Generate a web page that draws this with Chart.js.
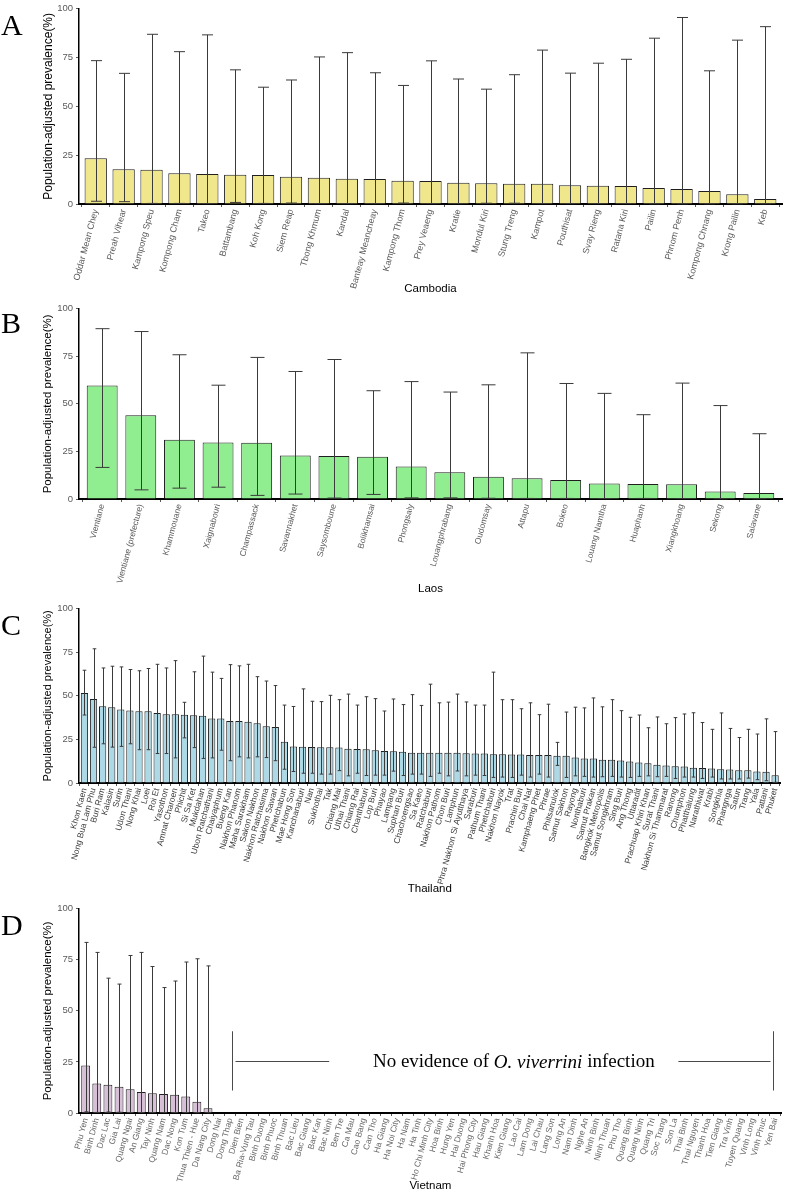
<!DOCTYPE html>
<html>
<head>
<meta charset="utf-8">
<script src="https://cdn.jsdelivr.net/npm/chart.js@4.4.1/dist/chart.umd.min.js"></script>
<style>
  body { margin: 0; background: #fff; width: 786px; height: 1197px; position: relative; overflow: hidden; }
  .panel { position: absolute; left: 0; width: 786px; }
  .tag { position: absolute; left: 1px; font-family: "Liberation Serif", "Times New Roman", serif; font-size: 30px; line-height: 30px; color: #000; }
</style>
</head>
<body>
<div class="panel" style="top:0;height:300px"><canvas id="chartA" width="786" height="300"></canvas></div>
<div class="panel" style="top:300px;height:300px"><canvas id="chartB" width="786" height="300"></canvas></div>
<div class="panel" style="top:600px;height:300px"><canvas id="chartC" width="786" height="300"></canvas></div>
<div class="panel" style="top:900px;height:297px"><canvas id="chartD" width="786" height="297"></canvas></div>
<div class="tag" style="top:10px">A</div>
<div class="tag" style="top:308px">B</div>
<div class="tag" style="top:610px">C</div>
<div class="tag" style="top:910px">D</div>

<script>
/* ---------- data ---------- */

// Cambodia
const khProvinces = ['Oddar Mean Chey','Preah Vihear','Kampong Speu','Kompong Cham','Takeo','Battambang','Koh Kong',
  'Siem Reap','Tbong Khmum','Kandal','Banteay Meancheay','Kampong Thom','Prey Veaeng','Kratie','Mondul Kiri',
  'Stung Treng','Kampot','Pouthisat','Svay Rieng','Ratana Kiri','Pailin','Phnom Penh','Kompong Chnang','Krong Pailin','Keb'];
const khPrev = [23.4,17.8,17.5,15.8,15.3,15.0,14.8,14.0,13.4,12.9,12.8,11.9,11.8,10.9,10.6,10.4,10.4,9.6,9.4,9.2,8.2,7.7,6.7,5.0,2.5];
const khLow  = [1.4,1.2,0.3,0.3,0.2,0.8,0.3,0.5,0.2,0.2,0.2,0.5,0.2,0.2,0.4,0.4,0.2,0.2,0.2,0.2,0.1,0.1,0.1,0.1,0.1];
const khHigh = [73.4,66.9,86.9,78.0,86.6,68.7,59.8,63.5,75.3,77.5,67.2,60.7,73.3,64.0,58.8,66.2,78.8,67.0,72.1,74.1,84.9,95.5,68.2,83.9,90.8];

// Laos
const laProvinces = ['Vientiane','Vientiane (prefecture)','Khammouane','Xaignabouri','Champassack','Savannakhet',
  'Saysomboune','Bolikhamsai','Phongsaly','Louangphrabang','Oudomsay','Attapu','Bokeo','Louang Namtha','Huaphanh',
  'Xiangkhoang','Sekong','Salavane'];
const laPrev = [59.7,44.0,31.2,29.7,29.5,22.8,22.6,22.2,17.1,14.1,11.7,10.9,10.0,8.1,7.9,7.8,4.0,3.1];
const laLow  = [16.6,4.8,5.7,6.2,1.9,2.6,0.5,2.4,0.6,0.6,0.4,0.3,0.3,0.2,0.3,0.2,0.1,0.1];
const laHigh = [89.5,88.0,75.8,59.8,74.4,67.0,73.3,56.9,61.7,56.2,60.0,76.8,60.7,55.5,44.3,60.9,49.1,34.3];

// Thailand
const thProvinces = ['Khon Kaen','Nong Bua Lam Phu','Buri Ram','Kalasin','Surin','Udon Thani','Nong Khai','Loei',
  'Roi Et','Yasothon','Amnat Charoen','Phichit','Si Sa Ket','Mukdahan','Ubon Ratchathani','Chaiyaphum','Bueng Kan',
  'Nakhon Phanom','Maha Sarakham','Sakon Nakhon','Nakhon Ratchasima','Nakhon Sawan','Phetchabun','Mae Hong Son',
  'Kanchanaburi','Nan','Sukhothai','Tak','Chiang Mai','Uthai Thani','Chiang Rai','Chanthaburi','Lop Buri','Phayao',
  'Lampang','Suphan Buri','Chachoengsao','Sa Kaeo','Ratchaburi','Nakhon Pathom','Chon Buri','Lamphun',
  'Phra Nakhon Si Ayutthaya','Saraburi','Pathum Thani','Phetchaburi','Nakhon Nayok','Trat','Prachin Buri','Chai Nat',
  'Kamphaeng Phet','Phrae','Phitsanulok','Samut Sakhon','Rayong','Nonthaburi','Samut Prakan','Bangkok Metropolis',
  'Samut Songkhram','Sing Buri','Ang Thong','Uttaradit','Prachuap Khiri Khan','Surat Thani','Nakhon Si Thammarat',
  'Ranong','Chumphon','Phatthalung','Narathiwat','Krabi','Songkhla','Phangnga','Satun','Trang','Yala','Pattani','Phuket'];
const thPrev = [51.6,48.2,44.1,43.5,42.2,41.6,41.1,41.1,40.2,39.4,
  39.4,39.2,38.8,38.6,37.0,37.0,35.6,35.5,35.1,34.3,
  32.6,32.1,23.6,21.0,20.8,20.6,20.5,20.5,20.3,19.7,
  19.5,19.3,18.8,18.4,18.2,18.0,17.4,17.4,17.4,17.4,
  17.3,17.3,17.1,16.9,16.9,16.5,16.5,16.3,16.3,16.1,
  16.1,16.1,15.6,15.6,14.6,14.1,14.1,13.3,13.3,12.9,
  12.4,11.8,11.3,10.5,10.1,9.6,9.4,8.8,8.6,8.3,
  7.9,7.7,7.3,7.3,6.6,6.4,4.5];
const thLow = [39.0,20.5,22.5,20.6,21.0,22.5,19.1,19.1,16.9,16.9,
  14.4,25.9,20.3,14.1,14.4,18.8,12.8,15.0,14.4,15.0,
  14.6,12.8,7.9,6.6,5.6,5.6,5.1,5.1,7.1,4.1,
  5.6,4.3,4.5,4.5,6.8,4.3,5.1,5.1,3.8,5.6,
  4.1,6.9,4.1,4.5,4.3,3.2,3.4,3.2,4.5,3.4,
  5.1,3.4,10.1,3.2,4.1,3.8,3.4,3.6,3.8,3.4,
  3.2,3.8,4.1,3.6,3.8,2.6,3.4,3.4,2.6,3.4,
  2.3,2.3,2.3,2.8,1.9,1.3,0.4];
const thHigh = [64.7,77.0,66.0,67.0,66.6,65.1,64.4,65.7,68.1,66.0,
  70.2,46.3,63.8,72.8,63.6,60.0,67.9,67.2,68.1,61.0,
  58.5,55.9,44.7,43.9,54.0,46.9,46.7,50.3,47.8,51.0,
  44.7,49.5,48.4,41.3,48.2,45.0,50.7,44.5,56.7,46.0,
  46.4,51.0,46.5,44.7,44.7,63.6,47.8,47.8,42.6,46.0,
  39.2,45.2,23.3,40.7,43.5,43.1,48.8,43.7,47.8,41.5,
  37.7,39.0,31.7,37.9,34.0,37.5,39.6,40.3,34.7,30.8,
  40.2,31.3,26.1,30.8,28.1,36.8,29.5];

// Vietnam: only the first 12 provinces have estimates
const viProvinces = ['Phu Yen','Binh Dinh','Dac Lac','Gia Lai','Quang Ngai','An Giang','Tay Ninh','Quang Nam',
  'Dac Nong','Kon Tum','Thua Thien - Hue','Da Nang City','Dong Nai','Dong Thap','Dien Bien','Ba Ria-Vung Tau',
  'Binh Duong','Binh Phuoc','Binh Thuan','Bac Lieu','Bac Giang','Bac Kan','Bac Ninh','Ben Tre','Ca Mau','Cao Bang',
  'Can Tho','Ha Giang','Ha Noi City','Ha Nam','Ha Tinh','Ho Chi Minh City','Hoa Binh','Hung Yen','Hai Duong',
  'Hai Phong City','Hau Giang','Khanh Hoa','Kien Giang','Lao Cai','Lam Dong','Lai Chau','Lang Son','Long An',
  'Nam Dinh','Nghe An','Ninh Binh','Ninh Thuan','Phu Tho','Quang Binh','Quang Ninh','Quang Tri','Soc Trang',
  'Son La','Thai Binh','Thai Nguyen','Thanh Hoa','Tien Giang','Tra Vinh','Tuyen Quang','Vinh Long','Vinh Phuc','Yen Bai'];
const viPrev = [23.3,14.5,13.8,12.9,11.6,10.3,9.7,9.3,8.9,8.1,5.5,2.3];
const viLow  = [0.6,0.3,0.5,0.4,0.2,0.2,0.2,0.2,0.2,0.2,0.1,0.1];
const viHigh = [83.5,78.6,66.0,63.1,77.1,78.6,71.7,61.4,64.6,73.9,75.5,72.0];

const yTicks = [0, 25, 50, 75, 100];

// bracket for the provinces without data (category index / % units)
const vnGap = { left: 13.2, lineEnd: 21.9, textAt: 38.5, lineStart: 53.3, right: 61.8, mid: 25.5, low: 11, high: 40 };

/* ---------- style ---------- */

const COLOR = {
  cambodia: '#f0e68c',
  laos:     '#90ee90',
  thailand: '#add8e6',
  vietnam:  '#d8bfd8',
  edge:     '#1f1f1f',
  whisker:  '#3a3a3a',
  axis:     '#000000',
  tick:     '#5a5a5a',
};

Chart.defaults.font.family = '"Liberation Sans", Arial, sans-serif';
Chart.defaults.animation = false;

// ggplot pads a discrete axis by 0.6 of a step, Chart.js by 0.5
function ggExpand(scale) {
  scale._startValue -= 0.1;
  scale._valueRange += 0.2;
}

function errorBarPlugin(lows, highs, cap) {
  return {
    id: 'errorBars',
    afterDatasetsDraw(chart) {
      const { ctx } = chart;
      const y = chart.scales.y;
      const meta = chart.getDatasetMeta(0);
      ctx.save();
      ctx.strokeStyle = COLOR.whisker;
      ctx.lineWidth = 1;
      meta.data.forEach((bar, i) => {
        if (highs[i] == null) return;
        const x = Math.round(bar.x) + 0.5;
        const yl = y.getPixelForValue(lows[i]);
        const yh = y.getPixelForValue(highs[i]);
        ctx.beginPath();
        ctx.moveTo(x, yl); ctx.lineTo(x, yh);
        ctx.moveTo(x - cap, yh); ctx.lineTo(x + cap, yh);
        ctx.moveTo(x - cap, yl); ctx.lineTo(x + cap, yl);
        ctx.stroke();
      });
      ctx.restore();
    },
  };
}

const noEvidencePlugin = {
  id: 'noEvidence',
  afterDraw(chart) {
    const { ctx } = chart;
    const { x, y } = chart.scales;
    const g = vnGap;
    const xl = Math.round(x.getPixelForValue(g.left)) + 0.5;
    const xr = Math.round(x.getPixelForValue(g.right)) + 0.5;
    const ym = Math.round(y.getPixelForValue(g.mid)) + 0.5;
    ctx.save();
    ctx.strokeStyle = '#4a4a4a';
    ctx.lineWidth = 1;
    ctx.beginPath();
    ctx.moveTo(xl, y.getPixelForValue(g.low)); ctx.lineTo(xl, y.getPixelForValue(g.high));
    ctx.moveTo(xl + 3, ym); ctx.lineTo(x.getPixelForValue(g.lineEnd), ym);
    ctx.moveTo(x.getPixelForValue(g.lineStart), ym); ctx.lineTo(xr - 3, ym);
    ctx.moveTo(xr, y.getPixelForValue(g.low)); ctx.lineTo(xr, y.getPixelForValue(g.high));
    ctx.stroke();

    const parts = [
      ['No evidence of ', ''],
      ['O. viverrini', 'italic '],
      [' infection', ''],
    ];
    ctx.fillStyle = '#000';
    ctx.textBaseline = 'middle';
    ctx.textAlign = 'left';
    let total = 0;
    parts.forEach(([t, s]) => { ctx.font = s + '19px "Liberation Serif", "Times New Roman", serif'; total += ctx.measureText(t).width; });
    let cx = x.getPixelForValue(g.textAt) - total / 2;
    parts.forEach(([t, s]) => {
      ctx.font = s + '19px "Liberation Serif", "Times New Roman", serif';
      ctx.fillText(t, cx, ym + 1);
      cx += ctx.measureText(t).width;
    });
    ctx.restore();
  },
};

function makePanel(id, cfg) {
  const canvas = document.getElementById(id);
  const plugins = [errorBarPlugin(cfg.low, cfg.high, cfg.cap)];
  if (cfg.extra) plugins.push(cfg.extra);
  return new Chart(canvas.getContext('2d'), {
    type: 'bar',
    data: {
      labels: cfg.labels,
      datasets: [{
        data: cfg.values,
        backgroundColor: cfg.color,
        borderColor: COLOR.edge,
        borderWidth: 1,
        borderSkipped: 'bottom',
        barPercentage: 0.8,
        categoryPercentage: 1,
      }],
    },
    plugins,
    options: {
      responsive: false,
      layout: { padding: { left: 37, right: 4, top: 0, bottom: 0 } },
      plugins: { legend: { display: false }, tooltip: { enabled: false } },
      scales: {
        x: {
          afterBuildTicks: ggExpand,
          afterFit: s => { s.height = cfg.axisHeight; },
          grid: { display: true, drawOnChartArea: false, drawTicks: true, tickLength: 3, tickColor: COLOR.tick },
          border: { display: true, color: COLOR.axis, width: 2 },
          ticks: {
            autoSkip: false, minRotation: 75, maxRotation: 75, padding: 1,
            color: cfg.labelColor, font: { size: cfg.labelSize },
          },
          title: { display: true, text: cfg.xTitle, color: '#000', font: { size: 11.5 }, padding: { top: 0, bottom: 4 } },
        },
        y: {
          min: 0, max: 100,
          afterFit: s => { s.width = 42; },
          afterBuildTicks: s => { s.ticks = yTicks.map(v => ({ value: v })); },
          grid: { display: true, drawOnChartArea: false, drawTicks: true, tickLength: 3, tickColor: COLOR.tick },
          border: { display: true, color: COLOR.axis, width: 1.5 },
          ticks: { color: COLOR.tick, font: { size: 9.5 }, padding: 3 },
          title: { display: true, text: 'Population-adjusted prevalence(%)', color: '#000', font: { size: cfg.yTitleSize }, padding: { top: 4, bottom: 0 } },
        },
      },
    },
  });
}

makePanel('chartA', {
  labels: khProvinces, values: khPrev, low: khLow, high: khHigh,
  color: COLOR.cambodia, cap: 5.5, axisHeight: 96, xTitle: 'Cambodia',
  labelSize: 9, labelColor: '#5a5a5a', yTitleSize: 12,
});
makePanel('chartB', {
  labels: laProvinces, values: laPrev, low: laLow, high: laHigh,
  color: COLOR.laos, cap: 7, axisHeight: 101, xTitle: 'Laos',
  labelSize: 8.5, labelColor: '#5a5a5a', yTitleSize: 11.5,
});
makePanel('chartC', {
  labels: thProvinces, values: thPrev, low: thLow, high: thHigh,
  color: COLOR.thailand, cap: 1.8, axisHeight: 117, xTitle: 'Thailand',
  labelSize: 8.5, labelColor: '#3a3a3a', yTitleSize: 11,
});
makePanel('chartD', {
  labels: viProvinces, values: viPrev, low: viLow, high: viHigh,
  color: COLOR.vietnam, cap: 2, axisHeight: 84, xTitle: 'Vietnam',
  labelSize: 8.5, labelColor: '#666666', yTitleSize: 11.5, extra: noEvidencePlugin,
});
</script>
</body>
</html>
